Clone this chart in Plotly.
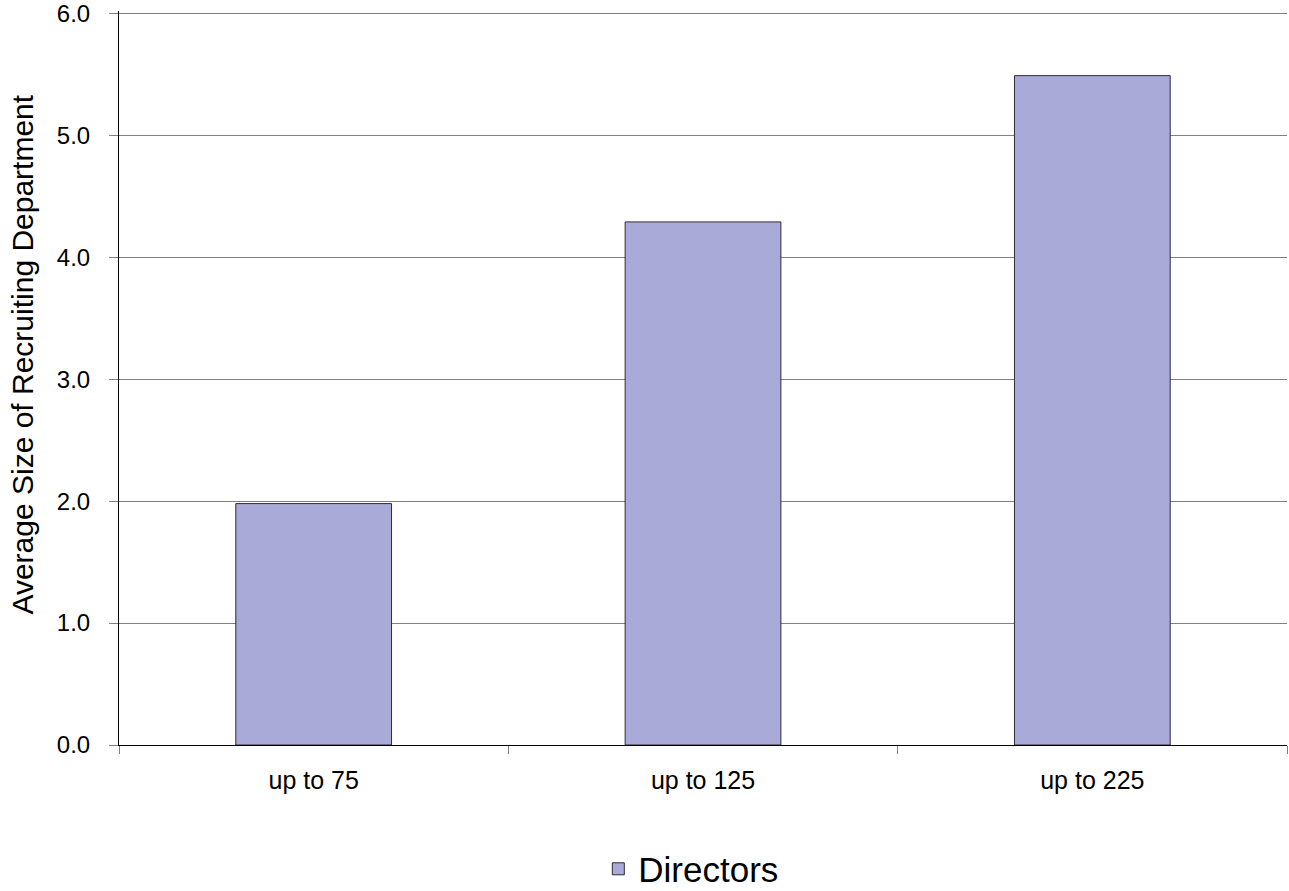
import plotly.graph_objects as go

categories = ["up to 75", "up to 125", "up to 225"]
directors = [1.98, 4.29, 5.49]
y_ticks = [0, 1, 2, 3, 4, 5, 6]
y_tick_labels = ["0.0", "1.0", "2.0", "3.0", "4.0", "5.0", "6.0"]
y_title = "Average Size of Recruiting Department"

FONT = "Liberation Sans, Arial, sans-serif"

fig = go.Figure()
fig.add_trace(go.Bar(
    x=categories, y=directors, name="Directors",
    marker=dict(color="#AAAAD8", line=dict(color="#2b2b3a", width=1)),
))

fig.update_layout(
    width=1289, height=891,
    margin=dict(l=119, r=2, t=11, b=146, autoexpand=False),
    paper_bgcolor="white", plot_bgcolor="white",
    bargap=0.6,
    font=dict(family=FONT, color="black"),
    showlegend=True,
    legend=dict(orientation="h", x=0.49, xanchor="center", y=-0.169, yanchor="middle",
                font=dict(size=35, family=FONT), itemwidth=30),
)
fig.add_annotation(
    text=y_title, textangle=-90, xref="paper", yref="paper",
    x=-0.083, y=0.532, xanchor="center", yanchor="middle", showarrow=False,
    font=dict(size=30, family=FONT, color="black"),
)
fig.update_xaxes(
    type="category", showline=True, linecolor="black", linewidth=1,
    ticks="outside", tickson="boundaries", ticklen=8, tickcolor="#808080",
    tickfont=dict(size=25, family=FONT), ticklabelstandoff=13,
    showgrid=False,
)
fig.update_yaxes(
    range=[0, 6.02], tickvals=y_ticks, ticktext=y_tick_labels,
    showline=True, linecolor="black", linewidth=1,
    ticks="outside", ticklen=9, tickcolor="#808080",
    tickfont=dict(size=24, family=FONT), ticklabelstandoff=14,
    ticklabeloverflow="allow",
    showgrid=True, gridcolor="#808080", gridwidth=1, zeroline=False,
)
fig.write_html("out.html", config={"displayModeBar": False},
               post_script="document.body.style.margin='0';document.body.style.overflow='hidden';")
